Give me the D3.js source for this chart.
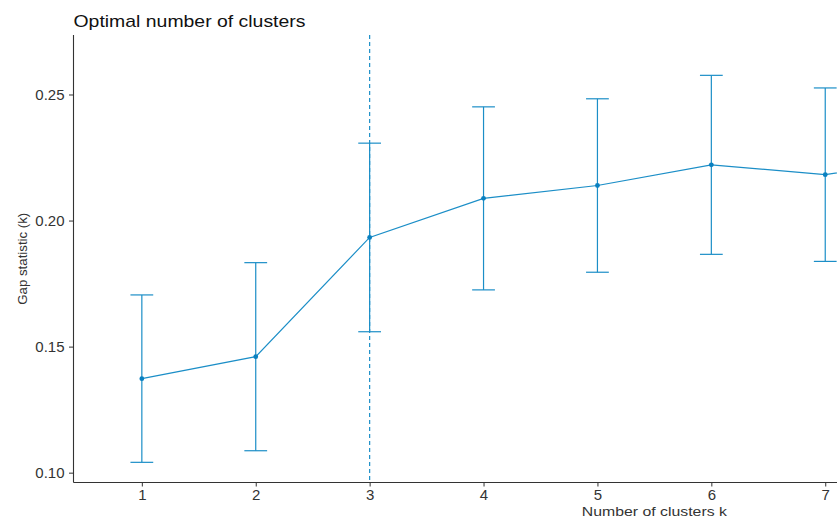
<!DOCTYPE html>
<html>
<head>
<meta charset="utf-8">
<script src="https://cdn.jsdelivr.net/npm/d3@7"></script>
<style>
  body { margin: 0; background: #fff; }
  svg { display: block; font-family: "Liberation Sans", Arial, sans-serif; }
</style>
</head>
<body>
<div id="chart"></div>
<script>
// gap statistic per k (k = 8 only partly visible at the right edge)
const clusters = [1, 2, 3, 4, 5, 6, 7, 8];
const gap = [0.1373, 0.1460, 0.1933, 0.2088, 0.2139, 0.2221, 0.2182, 0.2255];
const gapSE = [0.0332, 0.0373, 0.0374, 0.0363, 0.0344, 0.0355, 0.0344, 0.0350];
const xTicks = [1, 2, 3, 4, 5, 6, 7];
const yTicks = [0.10, 0.15, 0.20, 0.25];
const optimalK = 3;

const width = 837, height = 517;
const plotLeft = 73.5, plotTop = 35, plotBottom = 482.5;
const color = "#1b8ec7";

const svg = d3.select("#chart").append("svg")
    .attr("width", width)
    .attr("height", height);

// discrete axis for k = 1..10, expanded 0.6 each side; plot is cut at the right
const x = d3.scaleLinear()
    .domain([0.4, 10.6])
    .range([plotLeft, plotLeft + 10.2 * 113.9]);

const y = d3.scaleLinear()
    .domain([0.0961, 0.2736])
    .range([plotBottom, plotTop]);

// title (the source image is a bit stretched sideways)
svg.append("text")
    .attr("x", plotLeft)
    .attr("y", 26.5)
    .attr("font-size", 17)
    .attr("fill", "#111")
    .attr("textLength", 232)
    .attr("lengthAdjust", "spacingAndGlyphs")
    .text("Optimal number of clusters");

// y axis
const yAxis = svg.append("g")
    .attr("transform", `translate(${plotLeft},0)`)
    .call(d3.axisLeft(y).tickValues(yTicks).tickFormat(d3.format(".2f")).tickSize(4.5).tickPadding(4.5));
yAxis.select(".domain").attr("d", `M0,${plotTop}V${plotBottom}`);

// x axis
const xAxis = svg.append("g")
    .attr("transform", `translate(0,${plotBottom})`)
    .call(d3.axisBottom(x).tickValues(xTicks).tickFormat(d3.format("d")).tickSize(4).tickPadding(3.3));
xAxis.select(".domain").attr("d", `M${plotLeft},0H${width + 5}`);

svg.selectAll(".domain").attr("stroke", "#333").attr("stroke-width", 1.1);
svg.selectAll(".tick line").attr("stroke", "#333");
svg.selectAll(".tick text").attr("font-size", 15).attr("fill", "#333")
    .attr("font-family", "Liberation Sans, Arial, sans-serif");

// axis titles
svg.append("text")
    .attr("transform", `translate(26.5,${(plotTop + plotBottom) / 2}) rotate(-90)`)
    .attr("text-anchor", "middle")
    .attr("font-size", 13)
    .attr("fill", "#333")
    .attr("textLength", 92)
    .attr("lengthAdjust", "spacingAndGlyphs")
    .text("Gap statistic (k)");

svg.append("text")
    .attr("x", x(5.5))
    .attr("y", 515.5)
    .attr("text-anchor", "middle")
    .attr("font-size", 13.5)
    .attr("fill", "#333")
    .attr("textLength", 145)
    .attr("lengthAdjust", "spacingAndGlyphs")
    .text("Number of clusters k");

// optimal k line
svg.append("line")
    .attr("x1", x(optimalK)).attr("x2", x(optimalK))
    .attr("y1", plotTop).attr("y2", plotBottom)
    .attr("stroke", color)
    .attr("stroke-width", 1.2)
    .attr("stroke-dasharray", "4,3");

const data = clusters.map((k, i) => ({ k: k, v: gap[i], se: gapSE[i] }));

// error bars
const bars = svg.append("g").selectAll("g")
    .data(data)
    .join("g")
    .attr("stroke", color)
    .attr("stroke-width", 1.2);
bars.append("line")
    .attr("x1", d => x(d.k)).attr("x2", d => x(d.k))
    .attr("y1", d => y(d.v + d.se)).attr("y2", d => y(d.v - d.se));
bars.append("line")
    .attr("x1", d => x(d.k - 0.1)).attr("x2", d => x(d.k + 0.1))
    .attr("y1", d => y(d.v + d.se)).attr("y2", d => y(d.v + d.se));
bars.append("line")
    .attr("x1", d => x(d.k - 0.1)).attr("x2", d => x(d.k + 0.1))
    .attr("y1", d => y(d.v - d.se)).attr("y2", d => y(d.v - d.se));

// line + points
svg.append("path")
    .datum(data)
    .attr("fill", "none")
    .attr("stroke", color)
    .attr("stroke-width", 1.2)
    .attr("d", d3.line().x(d => x(d.k)).y(d => y(d.v)));

svg.append("g").selectAll("circle")
    .data(data)
    .join("circle")
    .attr("cx", d => x(d.k))
    .attr("cy", d => y(d.v))
    .attr("r", 2.4)
    .attr("fill", "#0a80c0");
</script>
</body>
</html>
